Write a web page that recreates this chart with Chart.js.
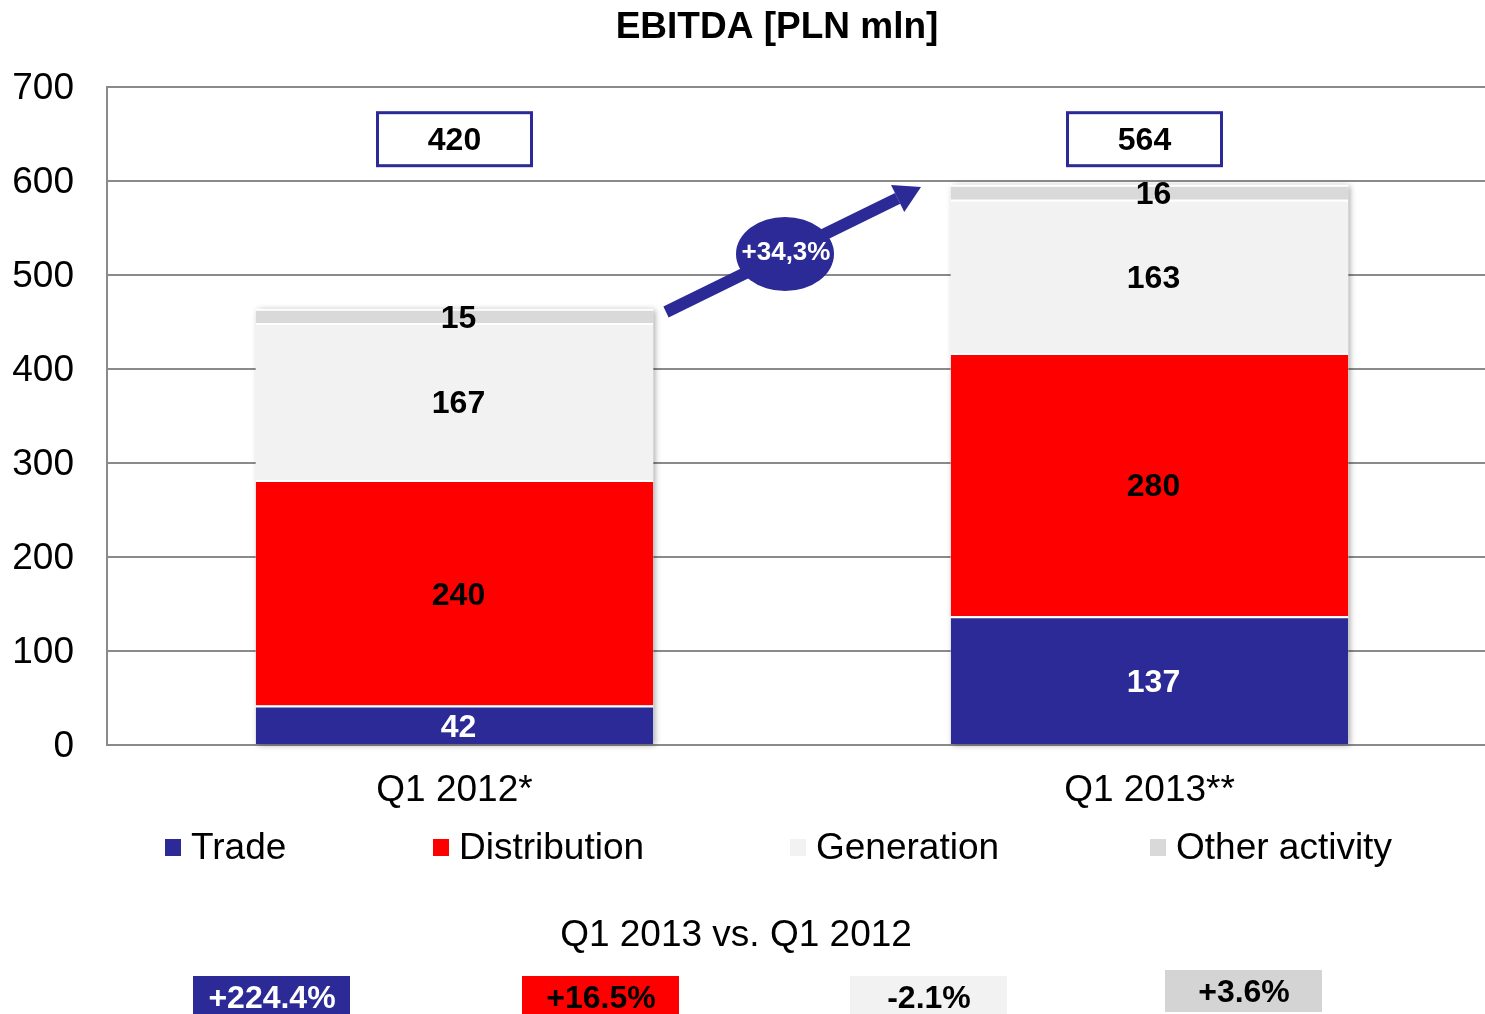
<!DOCTYPE html>
<html>
<head>
<meta charset="utf-8">
<title>EBITDA [PLN mln]</title>
<script src="https://cdn.jsdelivr.net/npm/chart.js@4/dist/chart.umd.min.js"></script>
<style>
  html, body { margin: 0; padding: 0; background: #fff; overflow: hidden; }
  #wrap { width: 1497px; height: 1014px; }
</style>
</head>
<body>
<div id="wrap"><canvas id="ebitda" width="1497" height="1014"></canvas></div>
<script>
/* ---------- data ---------- */
const categories   = ['Q1 2012*', 'Q1 2013**'];
const seriesNames  = ['Trade', 'Distribution', 'Generation', 'Other activity'];
const trade        = [42, 137];
const distribution = [240, 280];
const generation   = [167, 163];
const other        = [15, 16];
const totals       = [420, 564];
const growthLabel  = '+34,3%';
const changeTitle  = 'Q1 2013 vs. Q1 2012';
const changes      = ['+224.4%', '+16.5%', '-2.1%', '+3.6%'];
const yMin = 0, yMax = 700, yStep = 100;

const COLORS = ['#2B2A96', '#FF0000', '#F2F2F2', '#D9D9D9'];
const LABEL_COLORS = ['#fff', '#000', '#000', '#000'];
const FONT = '"Liberation Sans", Arial, sans-serif';

Chart.defaults.font.family = FONT;
Chart.defaults.color = '#000';

/* ---------- shadow behind each stack ---------- */
const stackShadow = {
  id: 'stackShadow',
  beforeDatasetsDraw(chart) {
    const ctx = chart.ctx;
    const metas = chart.getSortedVisibleDatasetMetas();
    categories.forEach((c, i) => {
      let top = Infinity, bottom = -Infinity, x = 0, w = 0;
      metas.forEach(m => {
        const el = m.data[i];
        top = Math.min(top, el.y);
        bottom = Math.max(bottom, el.base);
        x = el.x; w = el.width;
      });
      ctx.save();
      ctx.shadowColor = 'rgba(0,0,0,0.35)';
      ctx.shadowBlur = 6;
      ctx.shadowOffsetX = 2;
      ctx.shadowOffsetY = 1;
      ctx.fillStyle = '#fff';
      ctx.fillRect(x - w / 2, top, w, bottom - top);
      ctx.restore();
    });
  }
};

/* ---------- labels, totals, arrow, legend, changes ---------- */
const overlay = {
  id: 'overlay',
  afterDatasetsDraw(chart) {
    const ctx = chart.ctx;
    const y = chart.scales.y;
    ctx.save();
    ctx.textAlign = 'center';
    ctx.textBaseline = 'middle';

    // segment values
    chart.getSortedVisibleDatasetMetas().forEach((m, di) => {
      ctx.font = 'bold 32px ' + FONT;
      ctx.fillStyle = LABEL_COLORS[di];
      m.data.forEach((el, i) => {
        const v = chart.data.datasets[di].data[i];
        ctx.fillText(String(v), el.x + 4, (el.y + el.base) / 2 + 3);
      });
    });

    // total boxes
    const meta0 = chart.getDatasetMeta(0);
    totals.forEach((t, i) => {
      const cx = meta0.data[i].x - (i === 0 ? 0 : 5);
      const cy = y.getPixelForValue(645);
      ctx.fillStyle = '#fff';
      ctx.fillRect(cx - 77, cy - 26, 154, 53);
      ctx.lineWidth = 3;
      ctx.strokeStyle = '#2B2A96';
      ctx.strokeRect(cx - 77, cy - 26, 154, 53);
      ctx.fillStyle = '#000';
      ctx.font = 'bold 32px ' + FONT;
      ctx.fillText(String(t), cx, cy + 2);
    });

    // growth arrow
    const x1 = 666, y1 = 312, x2 = 921, y2 = 187;
    const ang = Math.atan2(y2 - y1, x2 - x1);
    const head = 26;
    const bx = x2 - head * Math.cos(ang), by = y2 - head * Math.sin(ang);
    ctx.strokeStyle = '#2B2A96';
    ctx.fillStyle = '#2B2A96';
    ctx.lineWidth = 12;
    ctx.beginPath();
    ctx.moveTo(x1, y1);
    ctx.lineTo(bx, by);
    ctx.stroke();
    ctx.beginPath();
    ctx.moveTo(x2, y2);
    ctx.lineTo(bx + 15 * Math.sin(ang), by - 15 * Math.cos(ang));
    ctx.lineTo(bx - 15 * Math.sin(ang), by + 15 * Math.cos(ang));
    ctx.closePath();
    ctx.fill();
    ctx.beginPath();
    ctx.ellipse(785, 254, 49, 37, 0, 0, Math.PI * 2);
    ctx.fill();
    ctx.fillStyle = '#fff';
    ctx.font = 'bold 26px ' + FONT;
    ctx.fillText(growthLabel, 786, 253);

    // legend
    const legX = [165, 433, 790, 1150];
    ctx.textAlign = 'left';
    ctx.font = '37px ' + FONT;
    seriesNames.forEach((n, i) => {
      ctx.fillStyle = COLORS[i];
      ctx.fillRect(legX[i], 839, 16, 17);
      ctx.fillStyle = '#000';
      ctx.fillText(n, legX[i] + 26, 849);
    });

    // comparison row
    ctx.textAlign = 'center';
    ctx.font = '37px ' + FONT;
    ctx.fillStyle = '#000';
    ctx.fillText(changeTitle, 736, 936);
    const boxX = [193, 522, 850, 1165];
    const boxY = [976, 976, 976, 970];
    const boxFill = ['#2B2A96', '#FF0000', '#F2F2F2', '#D4D4D4'];
    ctx.font = 'bold 32px ' + FONT;
    changes.forEach((c, i) => {
      ctx.fillStyle = boxFill[i];
      ctx.fillRect(boxX[i], boxY[i], 157, 42);
      ctx.fillStyle = LABEL_COLORS[i];
      ctx.fillText(c, boxX[i] + 79, boxY[i] + 23);
    });

    // title
    ctx.fillStyle = '#000';
    ctx.font = 'bold 37px ' + FONT;
    ctx.fillText('EBITDA [PLN mln]', 777, 28);
    ctx.restore();
  }
};

/* ---------- chart ---------- */
const seriesData = [trade, distribution, generation, other];

new Chart(document.getElementById('ebitda'), {
  type: 'bar',
  data: {
    labels: categories,
    datasets: seriesNames.map((n, i) => ({
      label: n,
      data: seriesData[i],
      backgroundColor: COLORS[i],
      borderColor: '#fff',
      borderWidth: { top: 2, left: 0, right: 0, bottom: 0 },
      borderSkipped: false,
      categoryPercentage: 1,
      barPercentage: 0.572
    }))
  },
  options: {
    responsive: false,
    devicePixelRatio: 1,
    animation: false,
    layout: { padding: { top: 87, left: 0, right: 0, bottom: 0 } },
    plugins: {
      legend: { display: false },
      title: { display: false },
      tooltip: { enabled: false }
    },
    scales: {
      x: {
        stacked: true,
        grid: { display: false, drawTicks: false },
        border: { color: '#8A8A8A', width: 2 },
        ticks: { font: { size: 37 }, color: '#000', padding: 24 },
        afterFit: s => { s.height = 269; }
      },
      y: {
        stacked: true,
        min: yMin,
        max: yMax,
        ticks: { stepSize: yStep, font: { size: 37 }, color: '#000', padding: 33, labelOffset: 2 },
        grid: { color: '#8A8A8A', lineWidth: 2, drawTicks: false },
        border: { color: '#8A8A8A', width: 2 },
        afterFit: s => { s.width = 107; }
      }
    }
  },
  plugins: [stackShadow, overlay]
});
</script>
</body>
</html>
